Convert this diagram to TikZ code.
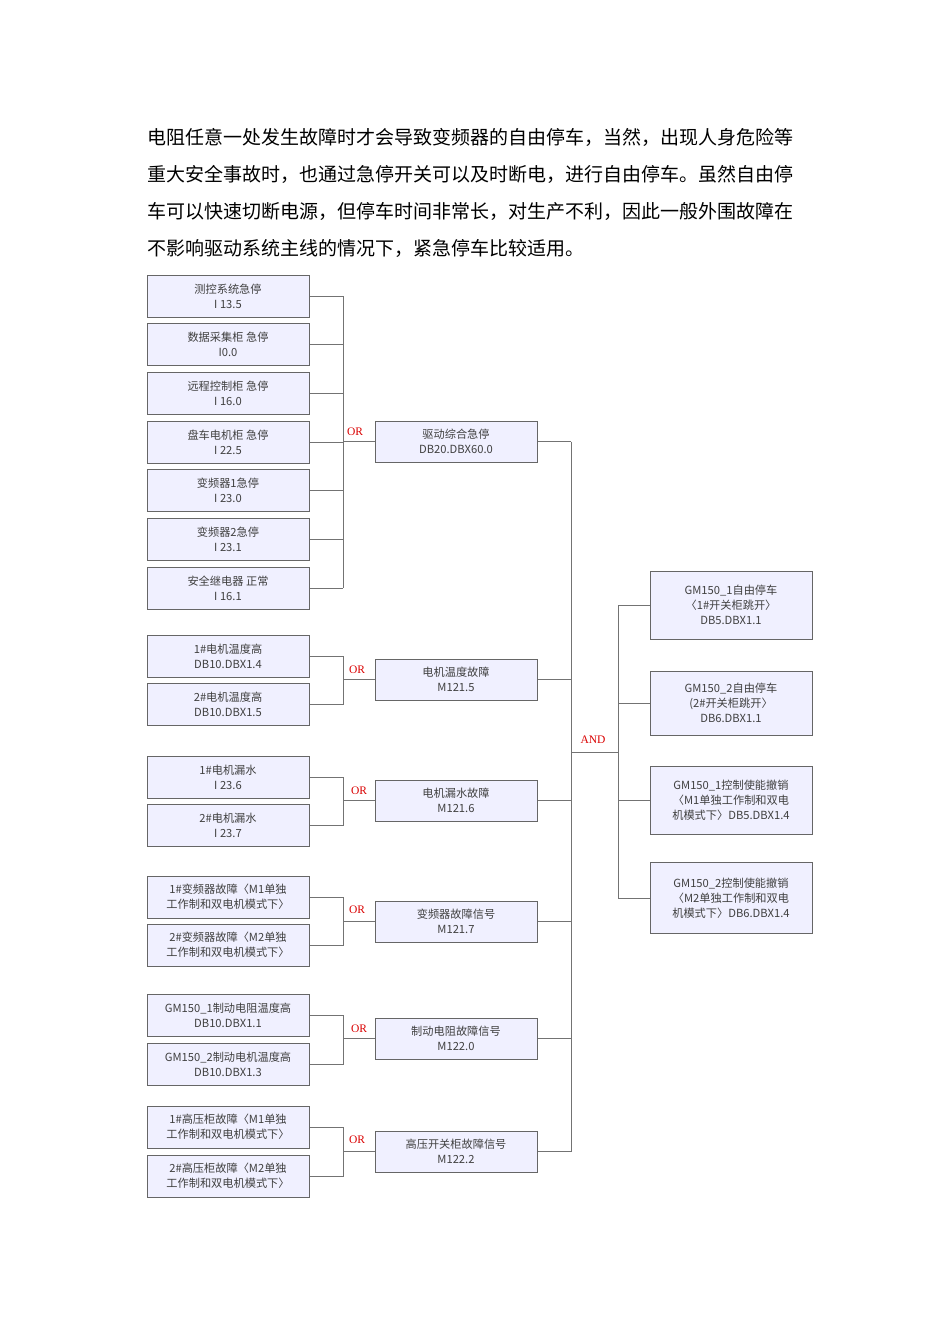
\documentclass[tikz,border=0pt]{standalone}
\usepackage{fontspec}
\setmainfont{Liberation Serif}
\newfontfamily\cjk{Noto Sans CJK SC}
\newcommand{\lbox}[5]{\node[bx,minimum height={#3-#2}] (#1) at (228,{(#2+#3)/2}) {#4\\#5};}
\newcommand{\midbox}[5]{\node[bx,minimum height={#3-#2}] (#1) at (456,{(#2+#3)/2}) {#4\\#5};}
\begin{document}
\begin{tikzpicture}[x=1pt,y=-1pt,
  bx/.style={draw=black!60,line width=1pt,fill=blue!6!white,minimum width=162pt,inner sep=1pt,align=center,font=\cjk\fontsize{11.2}{15}\selectfont,text=black!75},
  ln/.style={draw=black!55,line width=0.7pt},
  lab/.style={text=red!85!black,font=\fontsize{11.5}{12}\selectfont},
  para/.style={anchor=west,inner sep=0pt,font=\cjk\fontsize{19}{20}\selectfont}]
\useasboundingbox (0,0) rectangle (950,1344);
\node[para] (p1) at (147,137) {电阻任意一处发生故障时才会导致变频器的自由停车，当然，出现人身危险等};
\node[para] (p2) at (147,174) {重大安全事故时，也通过急停开关可以及时断电，进行自由停车。虽然自由停};
\node[para] (p3) at (147,211) {车可以快速切断电源，但停车时间非常长，对生产不利，因此一般外围故障在};
\node[para] (p4) at (147,248) {不影响驱动系统主线的情况下，紧急停车比较适用。};
% group 1
\lbox{a1}{275}{317}{测控系统急停}{I 13.5}
\lbox{a2}{323}{365}{数据采集柜 急停}{I0.0}
\lbox{a3}{372}{414}{远程控制柜 急停}{I 16.0}
\lbox{a4}{421}{463}{盘车电机柜 急停}{I 22.5}
\lbox{a5}{469}{511}{变频器1急停}{I 23.0}
\lbox{a6}{518}{560}{变频器2急停}{I 23.1}
\lbox{a7}{567}{609}{安全继电器 正常}{I 16.1}
\midbox{m1}{421}{462}{驱动综合急停}{DB20.DBX60.0}
\foreach \n in {a1,a2,a3,a4,a5,a6,a7} \draw[ln] (\n.east) -- (343,0 |- \n.east);
\draw[ln] (343,0 |- a1.east) -- (343,0 |- a7.east);
\draw[ln] (343,0 |- m1.west) -- (m1.west);
\node[lab] (o1) at (355,432) {OR};
% group 2
\lbox{b1}{635}{677}{1\#电机温度高}{DB10.DBX1.4}
\lbox{b2}{683}{725}{2\#电机温度高}{DB10.DBX1.5}
\midbox{m2}{659}{700}{电机温度故障}{M121.5}
\node[lab] (o2) at (357,670) {OR};
% group 3
\lbox{c1}{756}{798}{1\#电机漏水}{I 23.6}
\lbox{c2}{804}{846}{2\#电机漏水}{I 23.7}
\midbox{m3}{780}{821}{电机漏水故障}{M121.6}
\node[lab] (o3) at (359,791) {OR};
% group 4
\lbox{d1}{876}{918}{1\#变频器故障〈M1单独}{工作制和双电机模式下〉}
\lbox{d2}{924}{966}{2\#变频器故障〈M2单独}{工作制和双电机模式下〉}
\midbox{m4}{901}{942}{变频器故障信号}{M121.7}
\node[lab] (o4) at (357,910) {OR};
% group 5
\lbox{e1}{994}{1036}{GM150\_1制动电阻温度高}{DB10.DBX1.1}
\lbox{e2}{1043}{1085}{GM150\_2制动电机温度高}{DB10.DBX1.3}
\midbox{m5}{1018}{1059}{制动电阻故障信号}{M122.0}
\node[lab] (o5) at (359,1029) {OR};
% group 6
\lbox{f1}{1106}{1148}{1\#高压柜故障〈M1单独}{工作制和双电机模式下〉}
\lbox{f2}{1155}{1197}{2\#高压柜故障〈M2单独}{工作制和双电机模式下〉}
\midbox{m6}{1131}{1172}{高压开关柜故障信号}{M122.2}
\node[lab] (o6) at (357,1140) {OR};
\foreach \u/\v/\m in {b1/b2/m2,c1/c2/m3,d1/d2/m4,e1/e2/m5,f1/f2/m6}{
  \draw[ln] (\u.east) -- (343,0 |- \u.east) -- (343,0 |- \v.east) -- (\v.east);
  \draw[ln] (343,0 |- \m.west) -- (\m.west);
}
% AND bus
\foreach \m in {m1,m2,m3,m4,m5,m6} \draw[ln] (\m.east) -- (571,0 |- \m.east);
\draw[ln] (571,0 |- m1.east) -- (571,0 |- m6.east);
\coordinate (j) at (571,752);
\coordinate (k) at (618,752);
\draw[ln] (j) -- (k);
\node[lab] (and) at (593,740) {AND};
% right boxes
\node[bx,minimum height=68pt] (r1) at (731,605) {GM150\_1自由停车\\〈1\#开关柜跳开〉\\DB5.DBX1.1};
\node[bx,minimum height=64pt] (r2) at (731,703) {GM150\_2自由停车\\(2\#开关柜跳开〉\\DB6.DBX1.1};
\node[bx,minimum height=68pt] (r3) at (731,800) {GM150\_1控制使能撤销\\〈M1单独工作制和双电\\机模式下〉DB5.DBX1.4};
\node[bx,minimum height=71pt] (r4) at (731,898) {GM150\_2控制使能撤销\\〈M2单独工作制和双电\\机模式下〉DB6.DBX1.4};
\foreach \r in {r1,r2,r3,r4} \draw[ln] (618,0 |- \r.west) -- (\r.west);
\draw[ln] (618,0 |- r1.west) -- (618,0 |- r4.west);
\end{tikzpicture}
\end{document}
